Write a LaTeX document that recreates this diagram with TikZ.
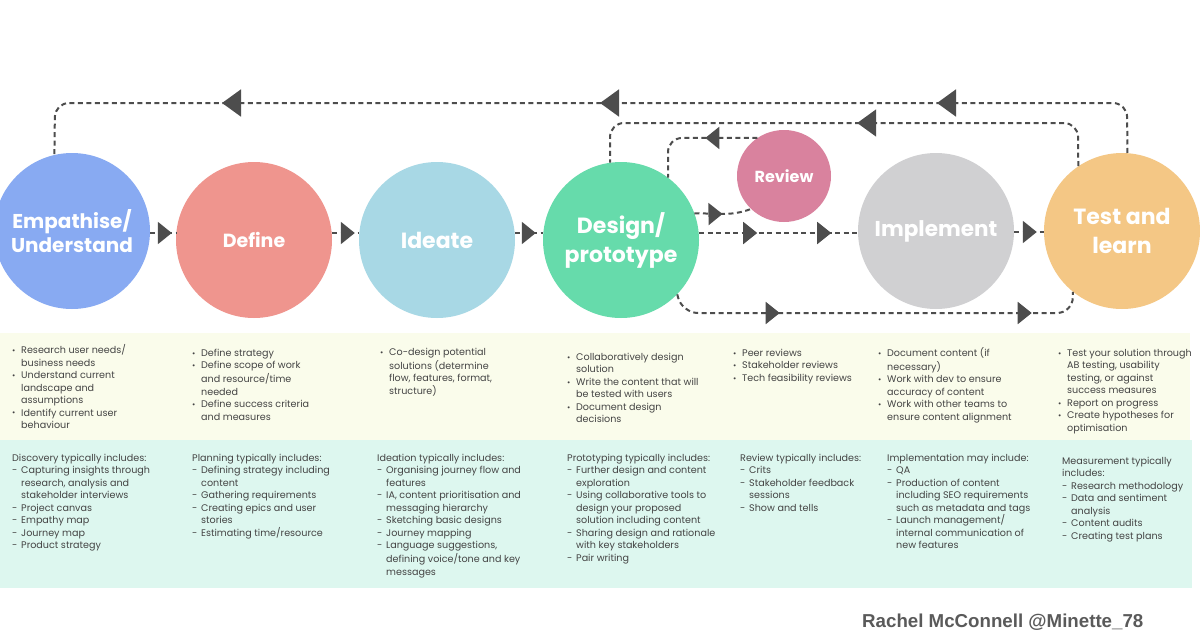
\documentclass[tikz,border=0pt]{standalone}
\usepackage{fontspec}
\setmainfont{Poppins}
\newfontfamily\credfont{Liberation Sans}
\usetikzlibrary{arrows.meta,decorations.markings,shapes.geometric}
\definecolor{empc}{HTML}{88AAF2}
\definecolor{defc}{HTML}{EF958E}
\definecolor{idec}{HTML}{A8D8E5}
\definecolor{desc}{HTML}{66DBAB}
\definecolor{revc}{HTML}{D9829E}
\definecolor{impc}{HTML}{D0D0D2}
\definecolor{tstc}{HTML}{F4C785}
\definecolor{arrowc}{HTML}{4D4D4D}
\definecolor{textc}{HTML}{444444}
\definecolor{upbg}{HTML}{FAFCEB}
\definecolor{lowbg}{HTML}{DDF7EF}
\definecolor{credc}{HTML}{5A5A5A}
\newcommand\bi{\strut\makebox[9pt][l]{\raisebox{0.3pt}{\fontsize{8}{8}\selectfont •}}}
\newcommand\ct{\hspace*{9pt}}
\newcommand\di{\strut\makebox[9pt][l]{-}}
\newcommand\hd{\strut}
\tikzset{
  phase/.style={circle, minimum size=156pt, inner sep=0pt, text=white, align=center, font=\bfseries},
  conn/.style={draw=arrowc, line width=2pt, dash pattern=on 5pt off 3.5pt},
  tipat/.style={postaction={decorate,decoration={markings,mark=at position #1 with {\arrow{Triangle[length=14pt,width=22pt]}}}}},
  bigtipat/.style={postaction={decorate,decoration={markings,mark=at position #1 with {\arrow{Triangle[length=19pt,width=27pt]}}}}},
  txt/.style={anchor=north west, inner sep=0pt, align=left, text=textc, font=\fontsize{9.6}{12.5}\selectfont},
}
\begin{document}
\begin{tikzpicture}[x=1pt,y=-1pt]
\useasboundingbox (0,0) rectangle (1200,640);
\fill[white] (0,0) rectangle (1200,640);
% panels
\fill[upbg] (0,333) rectangle (1190,440);
\fill[lowbg] (0,440) rectangle (1192,588);
% phases
\node[phase, fill=empc, font=\bfseries\fontsize{20}{24}\selectfont] (emp) at (72,231) {Empathise/\\Understand};
\node[phase, fill=defc, font=\bfseries\fontsize{19}{23}\selectfont] (def) at (254,240) {Define};
\node[phase, fill=idec, font=\bfseries\fontsize{22}{26}\selectfont] (ide) at (437,240) {Ideate};
\node[phase, fill=desc, font=\bfseries\fontsize{22}{29}\selectfont] (des) at (621,240) {Design/\\prototype};
\node[ellipse, minimum width=94pt, minimum height=92pt, inner sep=0pt, fill=revc, text=white, font=\bfseries\fontsize{16}{19}\selectfont] (rev) at (784,176) {Review};
\node[phase, fill=impc, font=\bfseries\fontsize{21.5}{25}\selectfont] (imp) at (936,231) {Implement};
\node[phase, fill=tstc, font=\bfseries\fontsize{22}{29}\selectfont] (tst) at (1122,231) {Test and\\learn};
% forward connectors
\draw[conn, tipat=-4pt] (emp.east |- 0,233) -- (def.west |- 0,233);
\draw[conn, tipat=-4pt] (def.east |- 0,233) -- (ide.west |- 0,233);
\draw[conn, tipat=-7pt] (ide.east |- 0,233) -- (des.west |- 0,233);
\draw[conn, tipat=58pt, tipat=132pt] (des.east |- 0,233) -- (imp.west |- 0,233);
\draw[conn, tipat=-7pt] (imp.east |- 0,232) -- (tst.west |- 0,232);
\draw[conn, tipat=28pt] (des.20) to[out=0,in=200] (rev.225);
% loops
\draw[conn, rounded corners=14pt, tipat=52pt] (rev.125) -- (668,138) -- (des.53);
\draw[conn, rounded corners=14pt, bigtipat=258pt] (tst.124) -- (1078,123) -- (610,123) -- (des.98);
\draw[conn, rounded corners=14pt, bigtipat=234pt, bigtipat=571pt, bigtipat=949pt] (tst.86) -- (1127,103) -- (55,103) -- (emp.103);
\draw[conn, rounded corners=16pt, tipat=112pt, tipat=364pt] (des.-44) -- (682,313) -- (1073,313) -- (tst.-129);
% upper texts
\node[txt] (u1) at (12,344.5) {\bi Research user needs/\\\ct business needs\\\bi Understand current\\\ct landscape and\\\ct assumptions\\\bi Identify current user\\\ct behaviour};
\node[txt] (u2) at (192,347.5) {\bi Define strategy\\\bi Define scope of work\\\ct and resource/time\\\ct needed\\\bi Define success criteria\\\ct and measures};
\node[txt] (u3) at (380,346.5) {\bi Co-design potential\\\ct solutions (determine\\\ct flow, features, format,\\\ct structure)};
\node[txt] (u4) at (567,351.5) {\bi Collaboratively design\\\ct solution\\\bi Write the content that will\\\ct be tested with users\\\bi Document design\\\ct decisions};
\node[txt] (u5) at (733,347.5) {\bi Peer reviews\\\bi Stakeholder reviews\\\bi Tech feasibility reviews};
\node[txt] (u6) at (878,347.5) {\bi Document content (if\\\ct necessary)\\\bi Work with dev to ensure\\\ct accuracy of content\\\bi Work with other teams to\\\ct ensure content alignment};
\node[txt] (u7) at (1058,347.5) {\bi Test your solution through\\\ct AB testing, usability\\\ct testing, or against\\\ct success measures\\\bi Report on progress\\\bi Create hypotheses for\\\ct optimisation};
% lower texts
\node[txt] (l1) at (12,452.5) {\hd Discovery typically includes:\\\di Capturing insights through\\\ct research, analysis and\\\ct stakeholder interviews\\\di Project canvas\\\di Empathy map\\\di Journey map\\\di Product strategy};
\node[txt] (l2) at (192,452.5) {\hd Planning typically includes:\\\di Defining strategy including\\\ct content\\\di Gathering requirements\\\di Creating epics and user\\\ct stories\\\di Estimating time/resource};
\node[txt] (l3) at (377,452.5) {\hd Ideation typically includes:\\\di Organising journey flow and\\\ct features\\\di IA, content prioritisation and\\\ct messaging hierarchy\\\di Sketching basic designs\\\di Journey mapping\\\di Language suggestions,\\\ct defining voice/tone and key\\\ct messages};
\node[txt] (l4) at (567,452.5) {\hd Prototyping typically includes:\\\di Further design and content\\\ct exploration\\\di Using collaborative tools to\\\ct design your proposed\\\ct solution including content\\\di Sharing design and rationale\\\ct with key stakeholders\\\di Pair writing};
\node[txt] (l5) at (740,452.5) {\hd Review typically includes:\\\di Crits\\\di Stakeholder feedback\\\ct sessions\\\di Show and tells};
\node[txt] (l6) at (887,452.5) {\hd Implementation may include:\\\di QA\\\di Production of content\\\ct including SEO requirements\\\ct such as metadata and tags\\\di Launch management/\\\ct internal communication of\\\ct new features};
\node[txt] (l7) at (1062,455.5) {\hd Measurement typically\\\hd includes:\\\di Research methodology\\\di Data and sentiment\\\ct analysis\\\di Content audits\\\di Creating test plans};
% credit
\node[anchor=west, inner sep=0pt, text=credc, font=\credfont\bfseries\fontsize{18.7}{22}\selectfont] (cred) at (862,622) {Rachel McConnell @Minette\_78};
\end{tikzpicture}
\end{document}
